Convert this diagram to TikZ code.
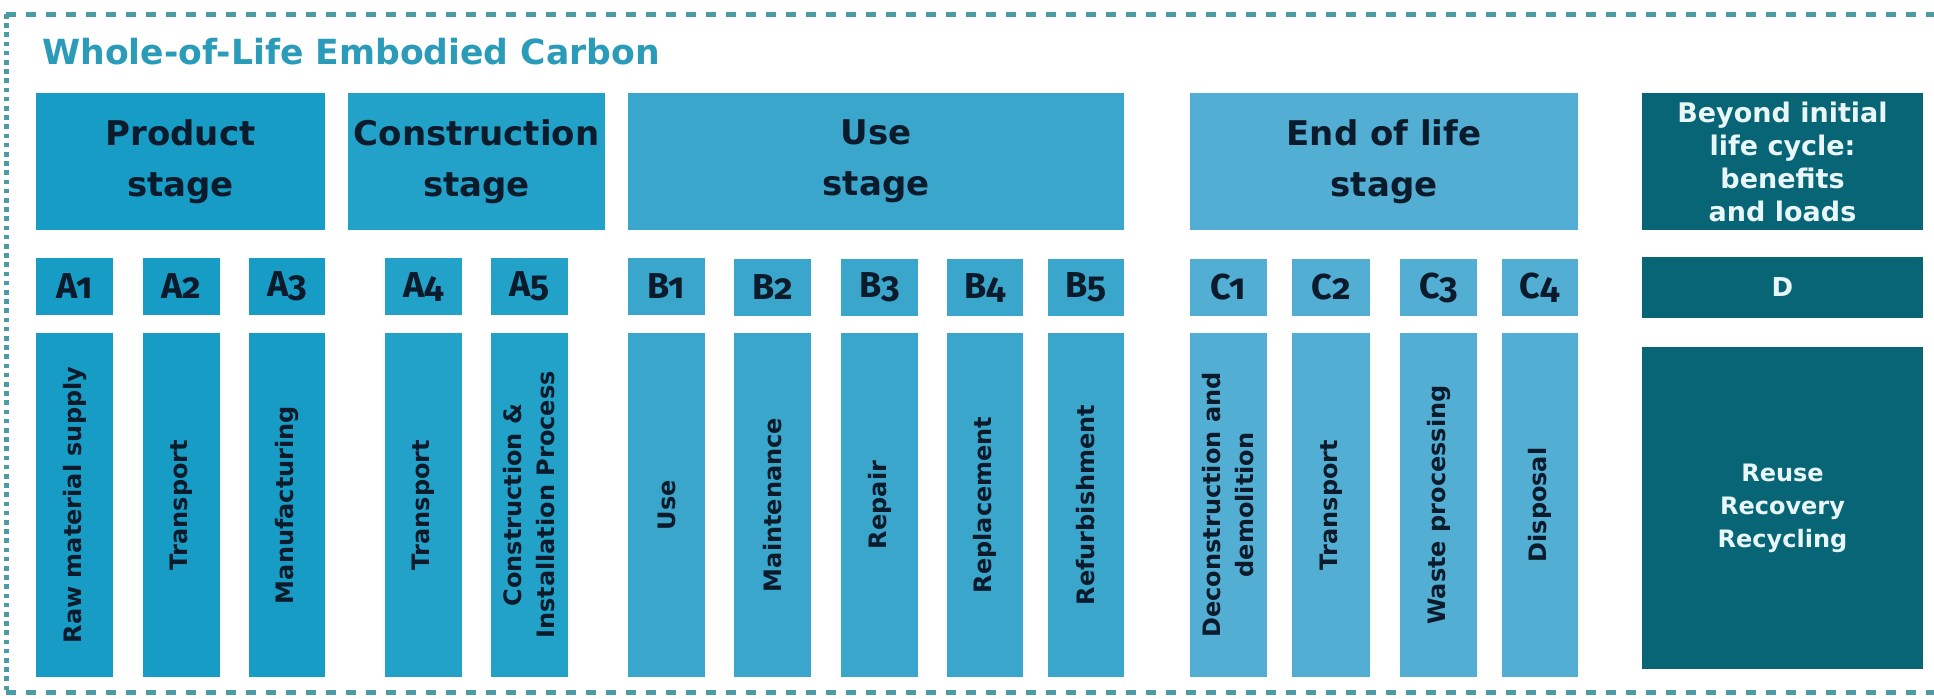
\documentclass[tikz,border=0pt]{standalone}
\usepackage{fontspec}
\setmainfont{DejaVu Sans}
\newfontfamily\codefont[Numbers=OldStyle]{Fira Sans}
\definecolor{prodc}{HTML}{179DC5}
\definecolor{consc}{HTML}{22A2C8}
\definecolor{usec}{HTML}{3AA6CB}
\definecolor{eolc}{HTML}{52AFD3}
\definecolor{darkc}{HTML}{086576}
\definecolor{inkc}{HTML}{0B1B2B}
\definecolor{titlec}{HTML}{2A9BB8}
\definecolor{borderc}{HTML}{4A9BA3}
\definecolor{whitec}{HTML}{E8F6F8}
\tikzset{
  cellbox/.style={rectangle, inner sep=0pt, outer sep=0pt, align=center, text=inkc},
  headtxt/.style={font=\bfseries\fontsize{17}{25.5}\selectfont},
  codetxt/.style={font=\codefont\bfseries\fontsize{18}{20}\selectfont},
  verttxt/.style={font=\bfseries\fontsize{12}{16.5}\selectfont},
  beyondtxt/.style={font=\bfseries\fontsize{13.5}{16.5}\selectfont, text=whitec},
  reusetxt/.style={font=\bfseries\fontsize{12}{16.5}\selectfont, text=whitec},
  dtxt/.style={font=\bfseries\fontsize{13}{16}\selectfont, text=whitec},
  borderline/.style={draw=borderc, line width=2.5pt}
}
% name, x1, y1, x2, y2, style, text
\newcommand\cellnode[7]{%
  \node[cellbox, #6, minimum width={(#4-#2)*0.5pt}, minimum height={(#5-#3)*0.5pt}]
    (#1) at ({(#2+#4)/2},{(#3+#5)/2}) {#7};}
% vertical (rotated) cell
\newcommand\vcellnode[7]{%
  \node[cellbox, #6, rotate=90, minimum width={(#5-#3)*0.5pt}, minimum height={(#4-#2)*0.5pt}]
    (#1) at ({(#2+#4)/2},{(#3+#5)/2}) {#7};}
\begin{document}
\begin{tikzpicture}[x=0.5pt, y=-0.5pt]
\useasboundingbox (0,0) rectangle (1934,698);
% dashed frame (open on the right)
\coordinate (ftr) at (1940,14);
\coordinate (ftl) at (6,14);
\coordinate (fbl) at (6,692);
\coordinate (fbr) at (1940,692);
\draw[borderline, dash pattern=on 5pt off 5pt] (ftl) -- (ftr);
\draw[borderline, dash pattern=on 5pt off 5pt] (fbl) -- (fbr);
\draw[borderline, dash pattern=on 2.3pt off 2.3pt] (ftl) -- (fbl);
% title
\node[anchor=base west, inner sep=0pt, text=titlec, font=\bfseries\fontsize{17.3}{20}\selectfont] (title) at (42,64) {Whole-of-Life Embodied Carbon};
% stage headers
\cellnode{prod}{36}{93}{325}{230}{fill=prodc, headtxt}{Product\\stage}
\cellnode{cons}{348}{93}{605}{230}{fill=consc, headtxt}{Construction\\stage}
\cellnode{use}{628}{93}{1124}{230}{fill=usec, headtxt}{Use\\stage}
\cellnode{eol}{1190}{93}{1578}{230}{fill=eolc, headtxt}{End of life\\stage}
\cellnode{beyond}{1642}{93}{1923}{230}{fill=darkc, beyondtxt}{Beyond initial\\life cycle:\\benefits\\and loads}
% module codes
\cellnode{a1}{36}{258}{113}{315}{fill=prodc, codetxt}{A1}
\cellnode{a2}{143}{258}{220}{315}{fill=prodc, codetxt}{A2}
\cellnode{a3}{249}{258}{325}{315}{fill=prodc, codetxt}{A3}
\cellnode{a4}{385}{258}{462}{315}{fill=consc, codetxt}{A4}
\cellnode{a5}{491}{258}{568}{315}{fill=consc, codetxt}{A5}
\cellnode{b1}{628}{258}{705}{315}{fill=usec, codetxt}{B1}
\cellnode{b2}{734}{259}{811}{316}{fill=usec, codetxt}{B2}
\cellnode{b3}{841}{259}{918}{316}{fill=usec, codetxt}{B3}
\cellnode{b4}{947}{259}{1023}{316}{fill=usec, codetxt}{B4}
\cellnode{b5}{1048}{259}{1124}{316}{fill=usec, codetxt}{B5}
\cellnode{c1}{1190}{259}{1267}{316}{fill=eolc, codetxt}{C1}
\cellnode{c2}{1292}{259}{1370}{316}{fill=eolc, codetxt}{C2}
\cellnode{c3}{1400}{259}{1477}{316}{fill=eolc, codetxt}{C3}
\cellnode{c4}{1502}{259}{1578}{316}{fill=eolc, codetxt}{C4}
\cellnode{d}{1642}{257}{1923}{318}{fill=darkc, dtxt}{D}
% module descriptions
\vcellnode{va1}{36}{333}{113}{677}{fill=prodc, verttxt}{Raw material supply}
\vcellnode{va2}{143}{333}{220}{677}{fill=prodc, verttxt}{Transport}
\vcellnode{va3}{249}{333}{325}{677}{fill=prodc, verttxt}{Manufacturing}
\vcellnode{va4}{385}{333}{462}{677}{fill=consc, verttxt}{Transport}
\vcellnode{va5}{491}{333}{568}{677}{fill=consc, verttxt}{Construction \&\\Installation Process}
\vcellnode{vb1}{628}{333}{705}{677}{fill=usec, verttxt}{Use}
\vcellnode{vb2}{734}{333}{811}{677}{fill=usec, verttxt}{Maintenance}
\vcellnode{vb3}{841}{333}{918}{677}{fill=usec, verttxt}{Repair}
\vcellnode{vb4}{947}{333}{1023}{677}{fill=usec, verttxt}{Replacement}
\vcellnode{vb5}{1048}{333}{1124}{677}{fill=usec, verttxt}{Refurbishment}
\vcellnode{vc1}{1190}{333}{1267}{677}{fill=eolc, verttxt}{Deconstruction and\\demolition}
\vcellnode{vc2}{1292}{333}{1370}{677}{fill=eolc, verttxt}{Transport}
\vcellnode{vc3}{1400}{333}{1477}{677}{fill=eolc, verttxt}{Waste processing}
\vcellnode{vc4}{1502}{333}{1578}{677}{fill=eolc, verttxt}{Disposal}
\cellnode{reuse}{1642}{347}{1923}{669}{fill=darkc, reusetxt}{Reuse\\Recovery\\Recycling}
\end{tikzpicture}
\end{document}
